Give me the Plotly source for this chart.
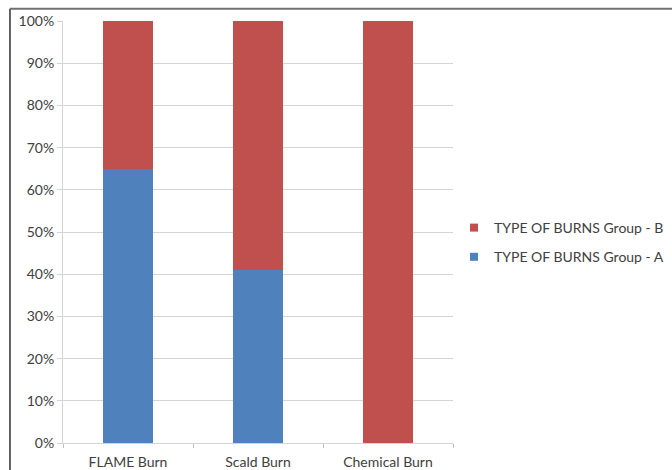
import plotly.graph_objects as go

# Share of each burn type by group (percent)
categories = ["FLAME Burn", "Scald Burn", "Chemical Burn"]
group_a = [65, 41, 0]
group_b = [35, 59, 100]
series_names = ["TYPE OF BURNS Group - A", "TYPE OF BURNS Group - B"]
y_ticks = [0, 10, 20, 30, 40, 50, 60, 70, 80, 90, 100]
y_tick_labels = [f"{v}%" for v in y_ticks]

BLUE = "#4F81BD"
RED = "#C0504D"
GRID = "#D4D4D4"
TEXT = "#404040"
FONT = "Lato, Carlito, 'Open Sans', sans-serif"

fig = go.Figure()
# stacked bars (legend entries drawn separately with small square markers)
for vals, name, color in [(group_a, series_names[0], BLUE), (group_b, series_names[1], RED)]:
    fig.add_trace(go.Bar(x=categories, y=vals, name=name, showlegend=False,
                         legendgroup=name,
                         marker=dict(color=color, line=dict(width=0))))
# legend lists Group - B above Group - A
for name, color in [(series_names[1], RED), (series_names[0], BLUE)]:
    fig.add_trace(go.Scatter(x=[None], y=[None], mode="markers", name=name,
                             legendgroup=name,
                             marker=dict(symbol="square", size=8, color=color)))

fig.update_layout(
    width=672, height=470,
    barmode="stack",
    bargap=0.61,
    plot_bgcolor="white",
    paper_bgcolor="white",
    margin=dict(l=63, r=219, t=21, b=27, pad=0, autoexpand=False),
    font=dict(family=FONT, size=14, color=TEXT),
    showlegend=True,
    legend=dict(
        xref="container", yref="container",
        x=454 / 672, y=1 - 242.5 / 470, xanchor="left", yanchor="middle",
        traceorder="grouped",
        font=dict(size=14, color=TEXT),
        itemwidth=30, tracegroupgap=8,
        bgcolor="rgba(0,0,0,0)",
    ),
    xaxis=dict(
        type="category",
        showline=True, linecolor=GRID, linewidth=1,
        ticks="outside", tickson="boundaries", ticklen=4, tickcolor="#BFBFBF",
        showgrid=False,
        ticklabelstandoff=6,
        tickfont=dict(size=14, color=TEXT),
        fixedrange=True,
    ),
    yaxis=dict(
        range=[0, 100],
        tickvals=y_ticks, ticktext=y_tick_labels,
        showline=True, linecolor=GRID, linewidth=1,
        ticks="outside", ticklen=5, tickcolor=GRID,
        showgrid=True, gridcolor=GRID, gridwidth=1,
        zeroline=False,
        tickfont=dict(size=14, color=TEXT),
        fixedrange=True,
    ),
    shapes=[
        # frame lines on the left and top edges
        dict(type="line", xref="paper", yref="paper",
             x0=-0.136, x1=-0.136, y0=1.029, y1=-0.07,
             line=dict(color="#303030", width=1.5)),
        dict(type="line", xref="paper", yref="paper",
             x0=-0.136, x1=1.6, y0=1.029, y1=1.029,
             line=dict(color="#707070", width=2)),
    ],
)

fig.write_html("out.html")
